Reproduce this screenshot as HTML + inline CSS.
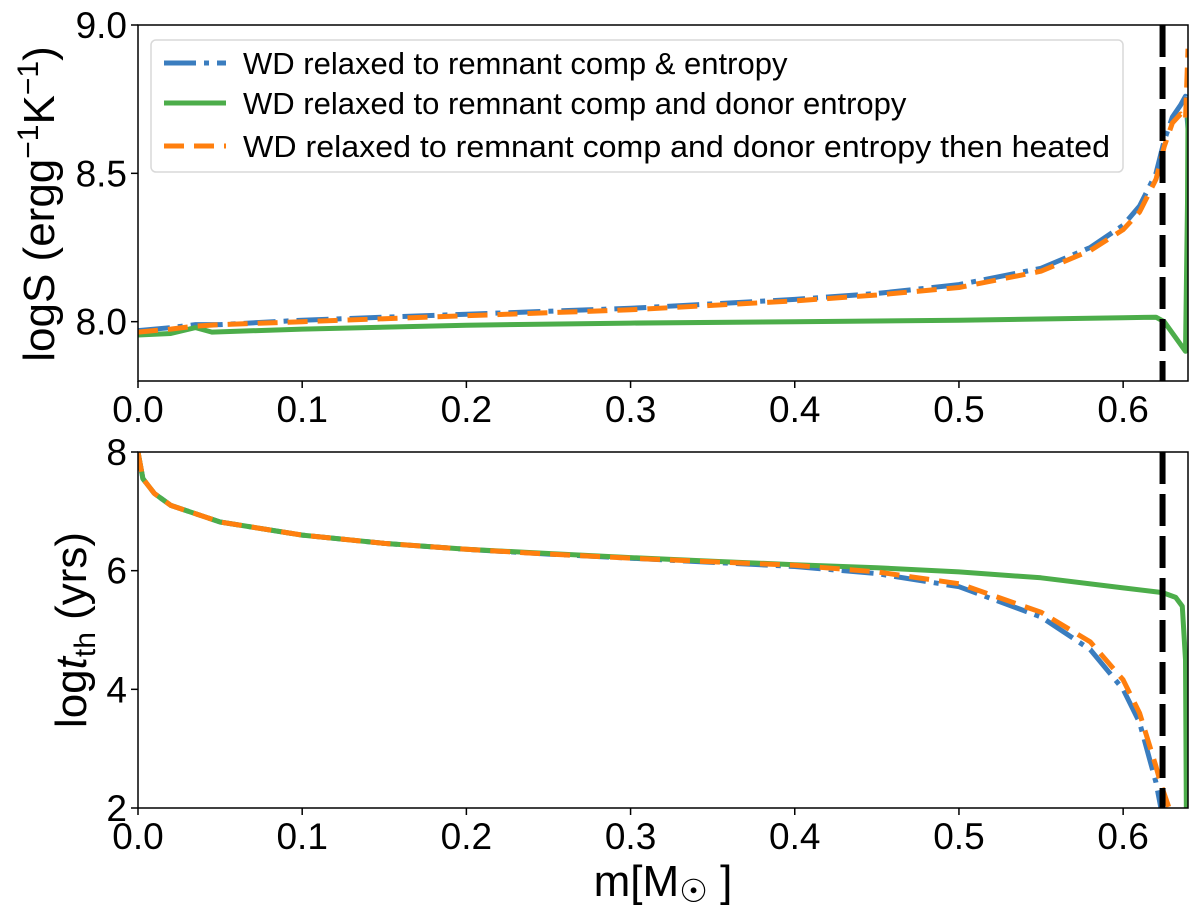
<!DOCTYPE html>
<html><head><meta charset="utf-8"><style>
html,body{margin:0;padding:0;background:#fff}
svg{display:block;font-family:"Liberation Sans","DejaVu Sans",sans-serif}
</style></head><body>
<svg id="chart" width="1200" height="916" viewBox="0 0 1200 916" xmlns="http://www.w3.org/2000/svg">
<defs>
<clipPath id="clipTop"><rect x="138" y="25" width="1050" height="356"/></clipPath>
<clipPath id="clipBot"><rect x="138" y="452" width="1050" height="356"/></clipPath>
</defs>
<g id="top"></g>
<g id="bot"></g>
<text transform="translate(54,204) rotate(-90)" text-anchor="middle" font-size="44">logS (ergg<tspan font-size="30" dy="-16">−1</tspan><tspan dy="16">K</tspan><tspan font-size="30" dy="-16">−1</tspan><tspan dy="16">)</tspan></text>
<text transform="translate(86,630) rotate(-90)" text-anchor="middle" font-size="44">log<tspan font-style="italic">t</tspan><tspan font-size="30" dy="9">th</tspan><tspan dy="-9"> (yrs)</tspan></text>
<text x="663" y="896" text-anchor="middle" font-size="44">m[M<tspan font-size="32" dy="6">☉</tspan><tspan dy="-6"> ]</tspan></text>
<g>
<rect x="151" y="40" width="972" height="132" rx="5" fill="#fff" stroke="#d9d9d9" stroke-width="1.5"/>
<line x1="164" y1="63" x2="226" y2="63" stroke="#3a7dbf" stroke-width="5" stroke-dasharray="32,8,5,8"/>
<text x="243" y="74" font-size="31">WD relaxed to remnant comp &amp; entropy</text>
<line x1="164" y1="103" x2="226" y2="103" stroke="#4cad4a" stroke-width="5"/>
<text x="243" y="114" font-size="31">WD relaxed to remnant comp and donor entropy</text>
<line x1="164" y1="146" x2="226" y2="146" stroke="#ff7f0e" stroke-width="5" stroke-dasharray="20,10"/>
<text x="243" y="157" font-size="31" textLength="867" lengthAdjust="spacingAndGlyphs">WD relaxed to remnant comp and donor entropy then heated</text>
</g>
</svg>
<script>
// shared x data (mass coordinate, Msun)
const topX    = [0,0.02,0.035,0.05,0.1,0.15,0.2,0.3,0.4,0.45,0.5,0.55,0.58,0.6,0.61,0.62,0.625,0.63,0.635,0.638,0.6395];
const topBlue = [7.97,7.98,7.99,7.99,8.005,8.015,8.025,8.045,8.075,8.095,8.125,8.18,8.25,8.325,8.39,8.50,8.61,8.69,8.73,8.76,8.65];
const topOrange=[7.965,7.975,7.985,7.99,8.0,8.01,8.02,8.04,8.07,8.09,8.115,8.17,8.24,8.31,8.37,8.48,8.59,8.67,8.70,8.68,8.92];
const topGreenX=[0,0.02,0.035,0.045,0.1,0.2,0.3,0.4,0.5,0.6,0.62,0.625,0.638,0.6392,0.6395];
const topGreen =[7.955,7.96,7.98,7.965,7.975,7.988,7.995,8.0,8.005,8.013,8.015,8.0,7.90,8.4,8.7];
const botX     = [0,0.003,0.01,0.02,0.05,0.1,0.15,0.2,0.25,0.3,0.35,0.4,0.45,0.5,0.55,0.58,0.6,0.61,0.62,0.623,0.628];
const botBlue  = [8,7.55,7.3,7.1,6.82,6.6,6.46,6.36,6.28,6.21,6.14,6.07,5.95,5.73,5.22,4.67,4.0,3.44,2.43,2.0,1.8];
const botOrange= [8,7.55,7.3,7.1,6.82,6.6,6.46,6.36,6.28,6.21,6.15,6.09,5.98,5.78,5.3,4.8,4.16,3.6,2.7,2.4,2.0];
const botGreenX= [0,0.003,0.01,0.02,0.05,0.1,0.15,0.2,0.25,0.3,0.35,0.4,0.45,0.5,0.55,0.6,0.624,0.632,0.636,0.638,0.6385];
const botGreen = [8,7.55,7.3,7.1,6.82,6.6,6.46,6.36,6.29,6.22,6.16,6.1,6.05,5.98,5.88,5.71,5.63,5.55,5.4,4.5,1.8];
const xTicks=[0,0.1,0.2,0.3,0.4,0.5,0.6];
const xTickLabels=["0.0","0.1","0.2","0.3","0.4","0.5","0.6"];
const topYTicks=[8.0,8.5,9.0], topYLabels=["8.0","8.5","9.0"];
const botYTicks=[2,4,6,8], botYLabels=["2","4","6","8"];
const boundaryM=0.624;

const NS="http://www.w3.org/2000/svg";
const X0=138,X1=1188,XMIN=0,XMAX=0.6395;
function sx(v){return X0+(v-XMIN)/(XMAX-XMIN)*(X1-X0);}
function mkY(y0,y1,vmin,vmax){return v=>y1-(v-vmin)/(vmax-vmin)*(y1-y0);}
const syTop=mkY(25,381,7.8,9.0);
const syBot=mkY(452,808,2,8);
function el(tag,attrs,parent){const e=document.createElementNS(NS,tag);for(const k in attrs)e.setAttribute(k,attrs[k]);parent.appendChild(e);return e;}
function line(parent,xs,ys,sy,stroke,dash,name,clip){
  const d=xs.map((x,i)=>(i?"L":"M")+sx(x).toFixed(1)+","+sy(ys[i]).toFixed(1)).join("");
  const p=el("path",{d:d,fill:"none",stroke:stroke,"stroke-width":5,"stroke-linejoin":"round","clip-path":"url(#"+clip+")"},parent);
  if(dash)p.setAttribute("stroke-dasharray",dash);
  
  
}
function panel(g,y0,y1,sy,yt,yl,clip,pre,blueX,blue,greenX,green,orangeX,orange){
  line(g,blueX,blue,sy,"#3a7dbf","32,8,5,8",pre+"-line-relaxed-entropy",clip);
  line(g,greenX,green,sy,"#4cad4a",null,pre+"-line-donor-entropy",clip);
  line(g,orangeX,orange,sy,"#ff7f0e","20,10",pre+"-line-heated",clip);
  const b=el("line",{x1:sx(boundaryM),x2:sx(boundaryM),y1:y0,y2:y1,stroke:"#000","stroke-width":6,"stroke-dasharray":"32,10"},g);
  
  
  const f=el("rect",{x:X0,y:y0,width:X1-X0,height:y1-y0,fill:"none",stroke:"#000","stroke-width":1.5},g);
  
  
  xTicks.forEach((t,i)=>{
    el("line",{x1:sx(t),x2:sx(t),y1:y1,y2:y1+7,stroke:"#000","stroke-width":1.5},g);
    const tx=el("text",{x:sx(t),y:y1+41,"text-anchor":"middle","font-size":37},g);
    tx.textContent=xTickLabels[i];
    
    
  });
  yt.forEach((t,i)=>{
    el("line",{x1:X0-7,x2:X0,y1:sy(t),y2:sy(t),stroke:"#000","stroke-width":1.5},g);
    const tx=el("text",{x:X0-11,y:sy(t)+13,"text-anchor":"end","font-size":37},g);
    tx.textContent=yl[i];
    
    
  });
}
panel(document.getElementById("top"),25,381,syTop,topYTicks,topYLabels,"clipTop","entropy",topX,topBlue,topGreenX,topGreen,topX,topOrange);
panel(document.getElementById("bot"),452,808,syBot,botYTicks,botYLabels,"clipBot","timescale",botX,botBlue,botGreenX,botGreen,botX,botOrange);
</script>
</body></html>
